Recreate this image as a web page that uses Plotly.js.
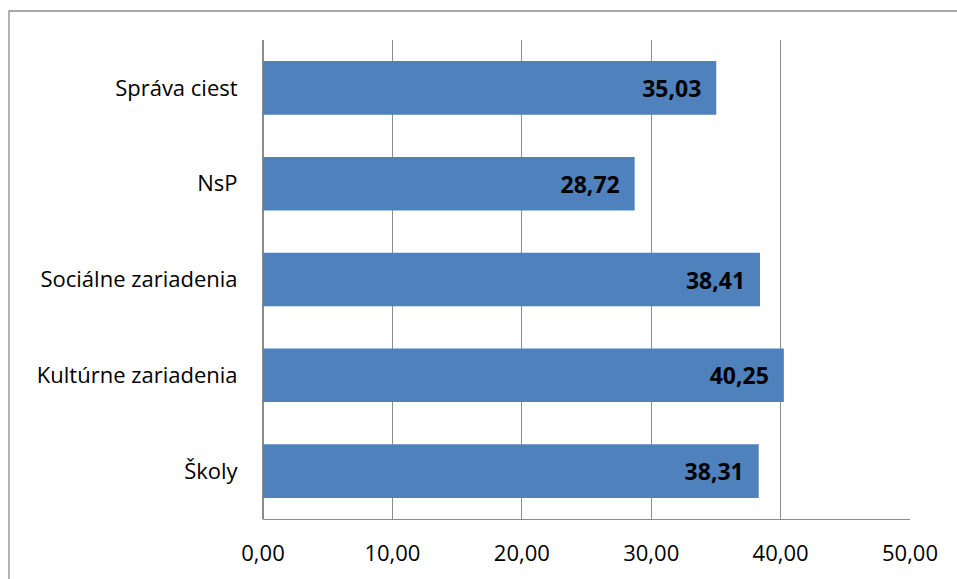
<!DOCTYPE html>
<html>
<head>
<meta charset="utf-8">
<script src="https://cdn.plot.ly/plotly-3.0.1.min.js"></script>
<style>html,body{margin:0;padding:0;background:#fff;}</style>
</head>
<body>
<div id="chart" style="width:957px;height:579px;"></div>
<script>
const categories = ["Správa ciest", "NsP", "Sociálne zariadenia", "Kultúrne zariadenia", "Školy"];
const values = [35.03, 28.72, 38.41, 40.25, 38.31];
const xTicks = [0, 10, 20, 30, 40, 50];

const L = 263, R = 47, T = 40, B = 60, W = 957, H = 579;
const pw = W - L - R, ph = H - T - B;
const px = v => (v - L) / pw;
const py = v => 1 - (v - T) / ph;

const FONT = '"Open Sans", Lato, "Liberation Sans", Arial, sans-serif';

const trace = {
  type: 'bar',
  orientation: 'h',
  y: categories,
  x: values,
  marker: {color: '#4F81BD'},
  texttemplate: '<b>%{x:.2f}</b>\u00a0\u00a0',
  textposition: 'inside',
  insidetextanchor: 'end',
  textangle: 0,
  insidetextfont: {family: FONT, size: 23, color: '#000'},
  hoverinfo: 'none',
  cliponaxis: false
};

const layout = {
  width: W, height: H,
  margin: {l: L, r: R, t: T, b: B},
  paper_bgcolor: '#fff',
  plot_bgcolor: '#fff',
  separators: ', ',
  bargap: 0.44,
  showlegend: false,
  font: {family: FONT, size: 22, color: '#000'},
  xaxis: {
    range: [0, 50],
    tickvals: xTicks,
    tickformat: '.2f',
    showgrid: true,
    gridcolor: '#8c8c8c',
    gridwidth: 1.3,
    zeroline: true,
    zerolinecolor: '#8c8c8c',
    zerolinewidth: 1.3,
    showline: true,
    linecolor: '#8c8c8c',
    linewidth: 1.3,
    ticks: 'outside',
    ticklen: 14,
    tickcolor: 'rgba(0,0,0,0)',
    tickfont: {family: FONT, size: 22, color: '#000'},
    fixedrange: true
  },
  yaxis: {
    autorange: 'reversed',
    showgrid: false,
    zeroline: false,
    showline: false,
    ticks: 'outside',
    ticklen: 20,
    tickcolor: 'rgba(0,0,0,0)',
    tickfont: {family: FONT, size: 22, color: '#000'},
    fixedrange: true
  },
  shapes: [{
    type: 'rect', xref: 'paper', yref: 'paper',
    x0: px(9), x1: px(962), y0: py(590), y1: py(11),
    line: {color: '#8a8a8a', width: 1.3},
    fillcolor: 'rgba(0,0,0,0)',
    layer: 'below'
  }]
};

Plotly.newPlot('chart', [trace], layout, {displayModeBar: false, staticPlot: true});
</script>
</body>
</html>
